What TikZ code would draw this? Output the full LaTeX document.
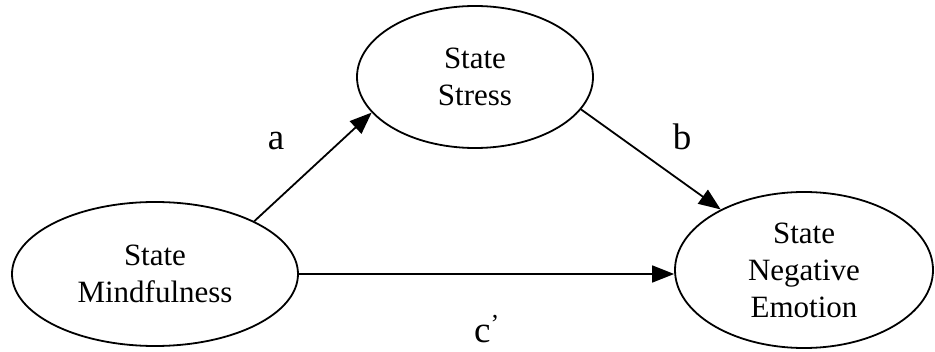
\documentclass[tikz,border=0pt]{standalone}
\usepackage{fontspec}
\setmainfont{Liberation Serif}
\usetikzlibrary{shapes.geometric,arrows.meta}

\begin{document}
\begin{tikzpicture}[
    x=1pt, y=1pt,
    latent/.style={
        draw,
        ellipse,
        line width=1.8pt,
        inner sep=0pt,
        align=center,
        font=\fontsize{31}{37}\selectfont
    },
    effect/.style={
        -{Triangle[length=22pt,width=17pt]},
        line width=1.8pt
    },
    coef/.style={
        anchor=base,
        font=\fontsize{37}{40}\selectfont
    }
]
\useasboundingbox (0,0) rectangle (935,351);

\node[latent, minimum width=286pt, minimum height=144pt] (mind) at (155,77) {State\\Mindfulness};

\node[latent, minimum width=236pt, minimum height=142pt] (stress) at (475,274) {State\\Stress};

\node[latent, minimum width=258pt, minimum height=156pt] (emotion) at (804,81) {State\\Negative\\Emotion};

\draw[effect] (mind.28) -- (stress.199);

\draw[effect] (stress.-17) -- (emotion.144);

\draw[effect] (mind.east) -- (mind.east -| emotion.west);

\node[coef] (a) at (276,201) {a};

\node[coef] (b) at (682,201) {b};

\node[coef] (c) at (487,9) {c\textsuperscript{’}};

\end{tikzpicture}
\end{document}
